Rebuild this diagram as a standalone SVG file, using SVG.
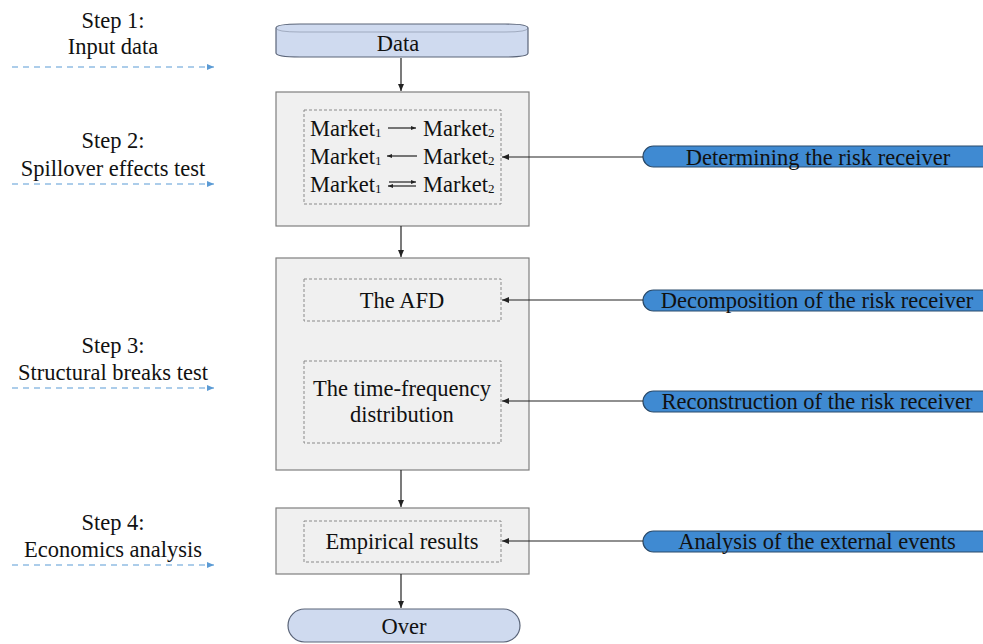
<svg xmlns="http://www.w3.org/2000/svg" width="983" height="644" viewBox="0 0 983 644" font-family="'Liberation Serif', 'Times New Roman', 'DejaVu Serif', serif">
<defs>
<style>
text{font-family:'Liberation Serif','Times New Roman','DejaVu Serif',serif;font-size:22.5px;fill:#111;text-anchor:middle}
.box{fill:#f0f0f0;stroke:#7f7f7f;stroke-width:1.2}
.inner{fill:none;stroke:#8a8a8a;stroke-width:1;stroke-dasharray:3,2}
.pill{fill:#3f8ad2;stroke:#2a4a6a;stroke-width:1.2}
.term{fill:#cfdaef;stroke:#5a6478;stroke-width:1.2}
.conn{stroke:#222;stroke-width:1.2;fill:none}
.step{stroke:#5b9bd5;stroke-width:1.2;stroke-dasharray:6,5;fill:none}
.sub{font-size:13px}
.l{text-anchor:start}
</style>
<marker id="ah" markerWidth="8" markerHeight="8" refX="7" refY="4" orient="auto" markerUnits="userSpaceOnUse">
<path d="M0,1 L7,4 L0,7 Z" fill="#222"/>
</marker>
<marker id="bh" markerWidth="8" markerHeight="8" refX="7" refY="4" orient="auto" markerUnits="userSpaceOnUse">
<path d="M0,1 L7,4 L0,7 Z" fill="#5b9bd5"/>
</marker>
<marker id="sh" markerWidth="6" markerHeight="6" refX="5" refY="3" orient="auto" markerUnits="userSpaceOnUse">
<path d="M0,1 L5,3 L0,5 Z" fill="#222"/>
</marker>
</defs>

<g id="steps">
<text x="113" y="28">Step 1:</text>
<text x="113" y="54">Input data</text>
<path class="step" d="M12,67 H214" marker-end="url(#bh)"/>
<text x="113" y="148">Step 2:</text>
<text x="113" y="176">Spillover effects test</text>
<path class="step" d="M12,184 H214" marker-end="url(#bh)"/>
<text x="113" y="353">Step 3:</text>
<text x="113" y="380">Structural breaks test</text>
<path class="step" d="M12,388 H214" marker-end="url(#bh)"/>
<text x="113" y="530">Step 4:</text>
<text x="113" y="557">Economics analysis</text>
<path class="step" d="M12,565 H214" marker-end="url(#bh)"/>
</g>

<g id="data">
<path class="term" d="M276,28 Q276,24 300,24 H505 Q528,24 528,28 V53 Q528,57 505,57 H300 Q276,57 276,53 Z"/>
<path d="M276,28 Q276,32 300,32 H505 Q528,32 528,28" fill="none" stroke="#5a6478" stroke-width="0.8" opacity="0.5"/>
<text x="398" y="51">Data</text>
</g>

<g id="spillover">
<rect class="box" x="276" y="92" width="253" height="134"/>
<rect class="inner" x="304" y="110" width="197" height="94"/>
<text class="l" x="310" y="136">Market<tspan class="sub" dy="1">1</tspan></text>
<text class="l" x="423" y="136">Market<tspan class="sub" dy="1">2</tspan></text>
<text class="l" x="310" y="164">Market<tspan class="sub" dy="1">1</tspan></text>
<text class="l" x="423" y="164">Market<tspan class="sub" dy="1">2</tspan></text>
<text class="l" x="310" y="192">Market<tspan class="sub" dy="1">1</tspan></text>
<text class="l" x="423" y="192">Market<tspan class="sub" dy="1">2</tspan></text>
<path class="conn" d="M388,128 H416" marker-end="url(#sh)" stroke-width="1"/>
<path class="conn" d="M417,156 H387" marker-end="url(#sh)" stroke-width="1"/>
<path class="conn" d="M389,182 H416" marker-end="url(#sh)" stroke-width="1"/>
<path class="conn" d="M416,186 H388" marker-end="url(#sh)" stroke-width="1"/>
</g>

<g id="structural">
<rect class="box" x="276" y="258" width="253" height="212"/>
</g>
<g id="afd">
<rect class="inner" x="304" y="279" width="197" height="42"/>
<text x="402" y="308">The AFD</text>
</g>
<g id="tf">
<rect class="inner" x="304" y="361" width="197" height="82"/>
<text x="402" y="396">The time-frequency</text>
<text x="402" y="422">distribution</text>
</g>

<g id="economics">
<rect class="box" x="276" y="508" width="253" height="66"/>
</g>
<g id="empirical">
<rect class="inner" x="304" y="521" width="197" height="41"/>
<text x="402" y="549">Empirical results</text>
</g>

<g id="over">
<rect class="term" x="288" y="609" width="232" height="33" rx="16.5"/>
<text x="404" y="634">Over</text>
</g>

<g id="determining">
<rect class="pill" x="643" y="146" width="360" height="21" rx="10.5"/>
<text x="818" y="165">Determining the risk receiver</text>
</g>
<g id="decomposition">
<rect class="pill" x="643" y="290" width="360" height="21" rx="10.5"/>
<text x="817" y="308">Decomposition of the risk receiver</text>
</g>
<g id="reconstruction">
<rect class="pill" x="643" y="391" width="360" height="21" rx="10.5"/>
<text x="817" y="409">Reconstruction of the risk receiver</text>
</g>
<g id="analysis">
<rect class="pill" x="643" y="531" width="360" height="21" rx="10.5"/>
<text x="817" y="549">Analysis of the external events</text>
</g>

<g id="connectors">
<path class="conn" d="M401,58 V91" marker-end="url(#ah)"/>
<path class="conn" d="M401,226 V257" marker-end="url(#ah)"/>
<path class="conn" d="M401,470 V507" marker-end="url(#ah)"/>
<path class="conn" d="M401,574 V608" marker-end="url(#ah)"/>
<path class="conn" d="M643,157 H502" marker-end="url(#ah)"/>
<path class="conn" d="M643,300 H502" marker-end="url(#ah)"/>
<path class="conn" d="M643,401 H502" marker-end="url(#ah)"/>
<path class="conn" d="M643,541 H502" marker-end="url(#ah)"/>
</g>
</svg>
